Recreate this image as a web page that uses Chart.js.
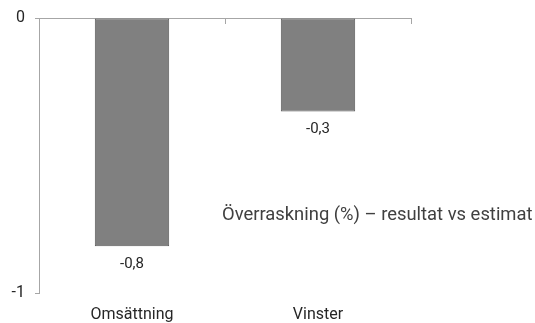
<!DOCTYPE html>
<html>
<head>
<meta charset="utf-8">
<script src="https://cdn.jsdelivr.net/npm/chart.js@4"></script>
<style>
  html, body { margin: 0; padding: 0; background: #fff; }
  #wrap { width: 535px; height: 323px; }
</style>
</head>
<body>
<div id="wrap"><canvas id="c" width="535" height="323"></canvas></div>
<script>
const categories = ["Omsättning", "Vinster"];
const values = [-0.83, -0.34];
const yTicks = [0, -1];
const annotationText = "Överraskning (%) – resultat vs estimat";

const FONT = "Roboto";
const AXIS = "#A6A6A6";

const fmt = v => v.toFixed(1).replace(".", ",");

const labelPlugin = {
  id: "labels",
  afterDatasetsDraw(chart) {
    const ctx = chart.ctx;
    const meta = chart.getDatasetMeta(0);
    ctx.save();
    ctx.font = "15px " + FONT;
    ctx.fillStyle = "#262626";
    ctx.textAlign = "center";
    ctx.textBaseline = "middle";
    meta.data.forEach((bar, i) => {
      ctx.fillText(fmt(values[i]), bar.x, bar.y + 18);
    });
    const x = chart.scales.x, y = chart.scales.y;
    const y0 = y.getPixelForValue(0);
    ctx.strokeStyle = AXIS;
    ctx.lineWidth = 1;
    for (let i = 1; i <= categories.length; i++) {
      const px = Math.round(x.left + (x.right - x.left) * i / categories.length) + 0.5;
      ctx.beginPath();
      ctx.moveTo(px, y0);
      ctx.lineTo(px, y0 + 6);
      ctx.stroke();
    }
    // annotation, sized to the width it has in the original
    const target = 310;
    ctx.font = "19px " + FONT;
    const w = ctx.measureText(annotationText).width;
    const size = Math.round(19 * target / w * 10) / 10;
    ctx.font = size + "px " + FONT;
    ctx.fillStyle = "#404040";
    ctx.textAlign = "left";
    ctx.fillText(annotationText, 222, 215);
    ctx.restore();
  }
};

new Chart(document.getElementById("c"), {
  type: "bar",
  data: {
    labels: categories,
    datasets: [{
      data: values,
      backgroundColor: "#808080",
      borderColor: "#595959",
      borderWidth: 1,
      borderSkipped: false,
      categoryPercentage: 0.4,
      barPercentage: 1
    }]
  },
  options: {
    responsive: false,
    animation: false,
    devicePixelRatio: 1,
    layout: { padding: { top: 16, right: 124, left: 0, bottom: 0 } },
    plugins: { legend: { display: false }, tooltip: { enabled: false } },
    scales: {
      x: {
        position: "bottom",
        grid: { display: false },
        border: { display: false },
        ticks: { color: "#262626", font: { family: FONT, size: 16 }, padding: 4 },
        afterFit(s) { s.height = 30; }
      },
      y: {
        min: -1,
        max: 0,
        afterBuildTicks(s) { s.ticks = yTicks.map(v => ({ value: v })); },
        ticks: {
          color: "#262626",
          font: { family: FONT, size: 16, lineHeight: 1 },
          padding: 10,
          callback: v => String(v)
        },
        grid: {
          color: ctx => (ctx.tick && ctx.tick.value === 0) ? AXIS : "rgba(0,0,0,0)",
          tickColor: AXIS,
          tickLength: 4,
          drawTicks: true
        },
        border: { display: true, color: AXIS, width: 1 },
        afterFit(s) { s.width = 39; }
      }
    }
  },
  plugins: [labelPlugin]
});
</script>
</body>
</html>
